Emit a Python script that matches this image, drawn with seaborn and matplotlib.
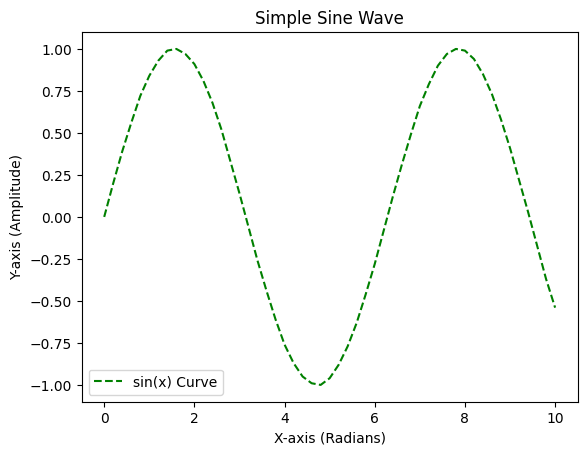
import matplotlib
matplotlib.use("Agg")
import matplotlib.pyplot as plt
import seaborn as sns

# values
x_vals = [0.0, 0.2, 0.4, 0.6, 0.8, 1.0, 1.2, 1.4, 1.6, 1.8,
          2.0, 2.2, 2.4, 2.6, 2.8, 3.0, 3.2, 3.4, 3.6, 3.8,
          4.0, 4.2, 4.4, 4.6, 4.8, 5.0, 5.2, 5.4, 5.6, 5.8,
          6.0, 6.2, 6.4, 6.6, 6.8, 7.0, 7.2, 7.4, 7.6, 7.8,
          8.0, 8.2, 8.4, 8.6, 8.8, 9.0, 9.2, 9.4, 9.6, 9.8, 10.0]
y_vals = [0.00, 0.20, 0.39, 0.56, 0.72, 0.84, 0.93, 0.99, 1.00, 0.97,
          0.91, 0.81, 0.68, 0.52, 0.33, 0.14, -0.06, -0.26, -0.44, -0.61,
          -0.76, -0.87, -0.95, -0.99, -1.00, -0.96, -0.88, -0.77, -0.63, -0.46,
          -0.28, -0.08, 0.12, 0.31, 0.49, 0.66, 0.79, 0.90, 0.97, 1.00,
          0.99, 0.94, 0.85, 0.73, 0.58, 0.41, 0.22, 0.03, -0.17, -0.37, -0.54]

fig, ax = plt.subplots(figsize=(6.4, 4.8), dpi=100)
sns.lineplot(x=x_vals, y=y_vals, ax=ax, color="green", linestyle="--",
             label="sin(x) Curve")

ax.set_title("Simple Sine Wave")
ax.set_xlabel("X-axis (Radians)")
ax.set_ylabel("Y-axis (Amplitude)")
ax.legend(loc="lower left")

plt.savefig("out.png", dpi=100, bbox_inches="tight")
